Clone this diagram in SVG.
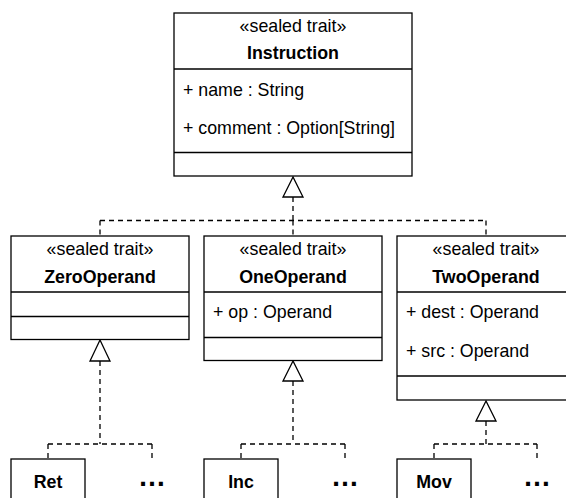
<svg xmlns="http://www.w3.org/2000/svg" width="566" height="498" viewBox="0 0 566 498">
<style>
.box{fill:#fff;stroke:#000;stroke-width:1.3}
.ln{stroke:#000;stroke-width:1.3;fill:none}
.t{font-family:"Liberation Sans",Arial,sans-serif;font-size:17.8px;fill:#000}
.c{text-anchor:middle}
.b{font-weight:bold}
.conn{stroke:#000;stroke-width:1.3;fill:none;stroke-dasharray:5 4}
.tri{fill:#fff;stroke:#000;stroke-width:1.3}
</style>
<rect width="566" height="498" fill="#fff"/>
<g id="connectors">
<path class="conn" d="M293,197 V220.5 M100,220.5 H486 M100,220.5 V236 M293,220.5 V236 M486,220.5 V236"/>
<polygon class="tri" points="293,177 283,197 303,197"/>
<path class="conn" d="M100,361 V444 M48,444 H152 M48,444 V459 M152,444 V459"/>
<polygon class="tri" points="100,340 90,361 110,361"/>
<path class="conn" d="M293,381 V444 M241,444 H345 M241,444 V459 M345,444 V459"/>
<polygon class="tri" points="293,361 283,381 303,381"/>
<path class="conn" d="M486,421 V444 M434,444 H537 M434,444 V459 M537,444 V459"/>
<polygon class="tri" points="486,401 476,421 496,421"/>
</g>
<g id="Instruction">
<rect class="box" x="174" y="13" width="238" height="163"/>
<line class="ln" x1="174" y1="69" x2="412" y2="69"/>
<line class="ln" x1="174" y1="152.5" x2="412" y2="152.5"/>
<text class="t c" x="293" y="32">«sealed trait»</text>
<text class="t c b" x="293" y="59">Instruction</text>
<text class="t" x="183" y="96">+ name : String</text>
<text class="t" x="183" y="134">+ comment : Option[String]</text>
</g>
<g id="ZeroOperand">
<rect class="box" x="11" y="236" width="178" height="103.5"/>
<line class="ln" x1="11" y1="292" x2="189" y2="292"/>
<line class="ln" x1="11" y1="316.5" x2="189" y2="316.5"/>
<text class="t c" x="100" y="255">«sealed trait»</text>
<text class="t c b" x="100" y="283">ZeroOperand</text>
</g>
<g id="OneOperand">
<rect class="box" x="204" y="236" width="178" height="124.5"/>
<line class="ln" x1="204" y1="292" x2="382" y2="292"/>
<line class="ln" x1="204" y1="337.5" x2="382" y2="337.5"/>
<text class="t c" x="293" y="255">«sealed trait»</text>
<text class="t c b" x="293" y="283">OneOperand</text>
<text class="t" x="213" y="318">+ op : Operand</text>
</g>
<g id="TwoOperand">
<rect class="box" x="397" y="236" width="178" height="164"/>
<line class="ln" x1="397" y1="292" x2="575" y2="292"/>
<line class="ln" x1="397" y1="376" x2="575" y2="376"/>
<text class="t c" x="486" y="255">«sealed trait»</text>
<text class="t c b" x="486" y="283">TwoOperand</text>
<text class="t" x="406" y="318">+ dest : Operand</text>
<text class="t" x="406" y="357">+ src : Operand</text>
</g>
<g id="Ret">
<rect class="box" x="11" y="459" width="74" height="60"/>
<text class="t c b" x="48" y="488">Ret</text>
</g>
<g id="more1"><text class="t c b" x="152" y="486" style="font-size:28px">…</text></g>
<g id="Inc">
<rect class="box" x="204" y="459" width="74" height="60"/>
<text class="t c b" x="241" y="488">Inc</text>
</g>
<g id="more2"><text class="t c b" x="345" y="486" style="font-size:28px">…</text></g>
<g id="Mov">
<rect class="box" x="397" y="459" width="74" height="60"/>
<text class="t c b" x="434" y="488">Mov</text>
</g>
<g id="more3"><text class="t c b" x="537" y="486" style="font-size:28px">…</text></g>
</svg>
